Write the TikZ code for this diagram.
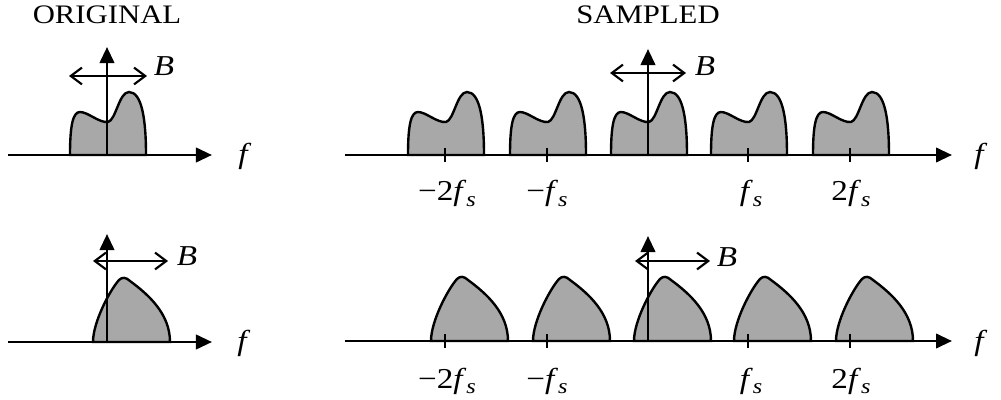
\documentclass[tikz,border=0pt]{standalone}
\usepackage{fontspec}
\setmainfont{Liberation Serif}
\usetikzlibrary{arrows.meta}
\tikzset{
    axis/.style={line width=1.9pt, -{Triangle[length=4mm, width=3.6mm]}},
    tickmark/.style={line width=1.9pt},
    spec/.style={draw, fill=black!34, line width=1.7pt},
    band/.style={line width=1.5pt, {Straight Barb[length=2.8mm, width=4.2mm]}-{Straight Barb[length=2.8mm, width=4.2mm]}},
    lbl/.style={font=\fontsize{20.5}{22}\selectfont, xscale=1.15, inner sep=0pt},
    ttl/.style={font=\fontsize{19}{21}\selectfont, xscale=1.15, inner sep=0pt},
    hump/.pic={\path[spec] (-37,0) .. controls (-37,-30) and (-34,-43) .. (-27,-43) .. controls (-19,-43) and (-8,-32) .. (1,-33) .. controls (9,-35) and (12,-63) .. (22,-63) .. controls (35,-63) and (39,-35) .. (39,0) -- cycle;},
    skew/.pic={\path[spec] (-14,0) .. controls (-14,-20) and (3,-52) .. (12,-62) .. controls (15,-65) and (19,-65) .. (23,-61) .. controls (42,-47) and (63,-28) .. (63,0) -- cycle;},
}
\newcommand\fsamp{\textit{f}\raisebox{-0.4ex}{\fontsize{15}{15}\selectfont\textit{s}}}

\begin{document}
\begin{tikzpicture}[x=0.025cm, y=-0.025cm]
    \useasboundingbox (0,0) rectangle (1001,400);

    \node[ttl] (orig) at (107,15) {ORIGINAL};
    \node[ttl] (samp) at (648,15) {SAMPLED};

    % spectra
    \pic at (107,155) {hump};
    \foreach \x in {445,547,648,748,850} \pic at (\x,155) {hump};
    \pic at (107,342) {skew};
    \foreach \x in {445,547,648,748,850} \pic at (\x,341) {skew};

    % axes
    \coordinate (a1) at (8,155);   \coordinate (b1) at (212,155);
    \coordinate (o1) at (107,155); \coordinate (t1) at (107,47);
    \coordinate (a2) at (345,155); \coordinate (b2) at (952,155);
    \coordinate (o2) at (648,155); \coordinate (t2) at (648,49);
    \coordinate (a3) at (8,342);   \coordinate (b3) at (212,342);
    \coordinate (o3) at (107,342); \coordinate (t3) at (107,234);
    \coordinate (a4) at (345,341); \coordinate (b4) at (952,341);
    \coordinate (o4) at (648,341); \coordinate (t4) at (648,236);
    \draw[axis] (a1) -- (b1);
    \draw[axis] (o1) -- (t1);
    \draw[axis] (a2) -- (b2);
    \draw[axis] (o2) -- (t2);
    \draw[axis] (a3) -- (b3);
    \draw[axis] (o3) -- (t3);
    \draw[axis] (a4) -- (b4);
    \draw[axis] (o4) -- (t4);
    \foreach \x in {445,547,748,850} {
        \draw[tickmark] (\x,148) -- (\x,162);
        \draw[tickmark] (\x,334) -- (\x,348);
    }

    % bandwidth arrows
    \draw[band] (69,76) -- (147,76);
    \draw[band] (610,73) -- (686,73);
    \draw[band] (93,261) -- (168,261);
    \draw[band] (635,261) -- (710,261);
    \node[lbl] (B1) at (164,66) {\textit{B}};
    \node[lbl] (B2) at (705,66) {\textit{B}};
    \node[lbl] (B3) at (187,256) {\textit{B}};
    \node[lbl] (B4) at (727,257) {\textit{B}};

    \node[lbl] (f1) at (245,156) {\textit{f}};
    \node[lbl] (f2) at (981,156) {\textit{f}};
    \node[lbl] (f3) at (244,343) {\textit{f}};
    \node[lbl] (f4) at (981,343) {\textit{f}};

    \node[lbl, anchor=base] (m2a) at (447,201) {−2\fsamp};
    \node[lbl, anchor=base] (m1a) at (547,201) {−\fsamp};
    \node[lbl, anchor=base] (p1a) at (751,201) {\fsamp};
    \node[lbl, anchor=base] (p2a) at (851,201) {2\fsamp};
    \node[lbl, anchor=base] (m2b) at (447,388) {−2\fsamp};
    \node[lbl, anchor=base] (m1b) at (547,388) {−\fsamp};
    \node[lbl, anchor=base] (p1b) at (751,388) {\fsamp};
    \node[lbl, anchor=base] (p2b) at (851,388) {2\fsamp};
\end{tikzpicture}
\end{document}
